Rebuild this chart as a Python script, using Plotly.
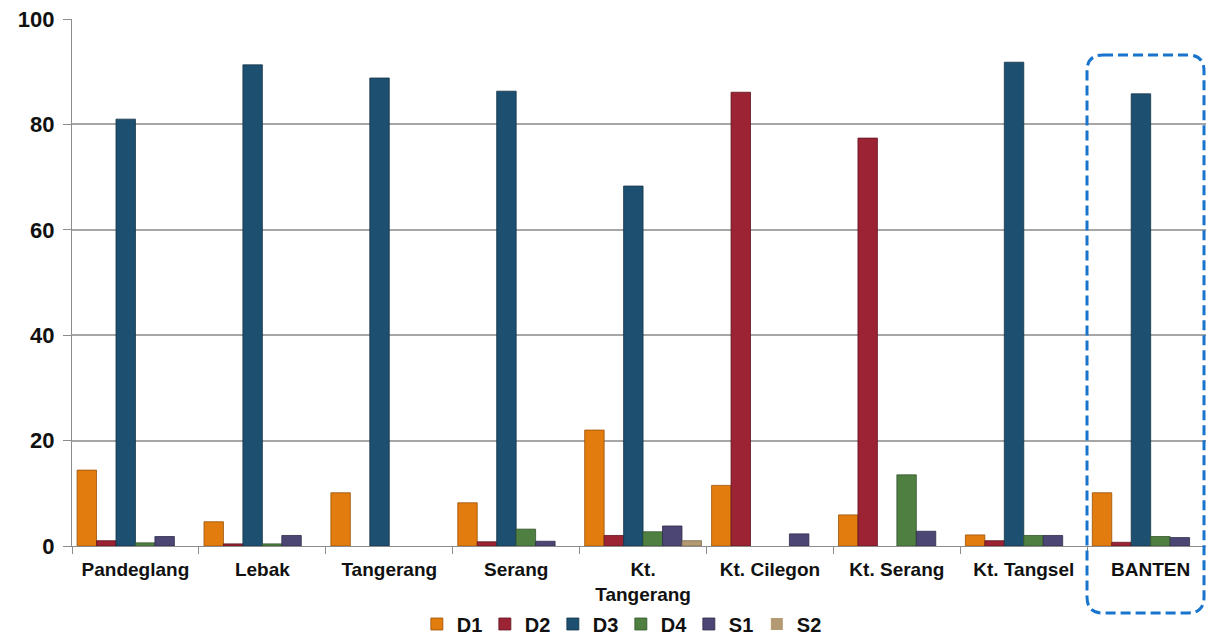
import plotly.graph_objects as go

# Regions and shares (%) per category
regions = ["Pandeglang", "Lebak", "Tangerang", "Serang", "Kt.<br>Tangerang",
           "Kt. Cilegon", "Kt. Serang", "Kt. Tangsel", "BANTEN"]

d1 = [14.4, 4.6, 10.1, 8.2, 22.0, 11.5, 5.9, 2.1, 10.1]
d2 = [1.0, 0.4, 0.0, 0.8, 2.0, 86.1, 77.4, 1.0, 0.7]
d3 = [81.0, 91.3, 88.8, 86.3, 68.3, 0.0, 0.0, 91.8, 85.8]
d4 = [0.6, 0.4, 0.0, 3.2, 2.7, 0.0, 13.5, 2.0, 1.8]
s1 = [1.8, 2.0, 0.0, 0.9, 3.8, 2.3, 2.8, 2.0, 1.6]
s2 = [0.0, 0.0, 0.0, 0.0, 1.0, 0.0, 0.0, 0.0, 0.0]

series = [
    ("D1", d1, "#E27C0E", "#9a5208"),
    ("D2", d2, "#9B2334", "#5e1520"),
    ("D3", d3, "#1D4F71", "#133448"),
    ("D4", d4, "#4F8042", "#33552b"),
    ("S1", s1, "#4B4674", "#2f2c4b"),
    ("S2", s2, "#B39A72", "#7a6949"),
]

W, H = 1206, 640
ML, MR, MT, MB = 72, 0, 19, 94

fig = go.Figure()
for name, vals, col, edge in series:
    fig.add_trace(go.Bar(
        name=name, x=regions, y=vals,
        # no outline on empty bars so nothing is drawn for zero shares
        marker=dict(color=col,
                    line=dict(color=edge, width=[0.8 if v > 0 else 0 for v in vals])),
    ))

font_family = "Liberation Sans, Arial, sans-serif"

fig.update_layout(
    width=W, height=H,
    margin=dict(l=ML, r=MR, t=MT, b=MB, pad=0, autoexpand=False),
    paper_bgcolor="white", plot_bgcolor="white",
    barmode="group", bargap=0.08, bargroupgap=0,
    font=dict(family=font_family, color="#111111"),
    showlegend=True,
    legend=dict(
        orientation="h", x=0.484, xanchor="center", y=-0.148, yanchor="middle",
        bgcolor="rgba(0,0,0,0)",
        font=dict(size=20, family=font_family, color="#111111", weight="bold"),
        entrywidth=23, itemwidth=30, traceorder="normal",
    ),
)

fig.update_xaxes(
    type="category", range=[-0.5, 8.436], tickson="boundaries",
    ticks="outside", ticklen=7, tickcolor="#8c8c8c", tickwidth=1,
    showline=True, linecolor="#8c8c8c", linewidth=1.2,
    showgrid=False, zeroline=False, ticklabelstandoff=6,
    tickfont=dict(size=19, family=font_family, color="#111111", weight="bold"),
    fixedrange=True,
)
fig.update_yaxes(
    range=[0, 100], tickvals=[0, 20, 40, 60, 80, 100],
    ticks="outside", ticklen=8, tickcolor="#8c8c8c", tickwidth=1,
    showline=True, linecolor="#8c8c8c", linewidth=1.2,
    showgrid=True, gridcolor="#a6a6a6", gridwidth=1.5,
    zeroline=False, ticklabelstandoff=4,
    tickfont=dict(size=22, family=font_family, color="#111111", weight="bold"),
    fixedrange=True,
)

# Dashed rounded frame highlighting the provincial total, defined in pixels
pw, ph = W - ML - MR, H - MT - MB
def px(x):
    return (x - ML) / pw
def py(y):
    return (H - MB - y) / ph

x0, x1, y0, y1, r = 1087, 1204, 55, 613, 16
path = (
    f"M {px(x0 + r)},{py(y0)} L {px(x1 - r)},{py(y0)} "
    f"Q {px(x1)},{py(y0)} {px(x1)},{py(y0 + r)} "
    f"L {px(x1)},{py(y1 - r)} Q {px(x1)},{py(y1)} {px(x1 - r)},{py(y1)} "
    f"L {px(x0 + r)},{py(y1)} Q {px(x0)},{py(y1)} {px(x0)},{py(y1 - r)} "
    f"L {px(x0)},{py(y0 + r)} Q {px(x0)},{py(y0)} {px(x0 + r)},{py(y0)} Z"
)
fig.add_shape(type="path", xref="paper", yref="paper", path=path,
              line=dict(color="#1874CD", width=3, dash="10px,5px"),
              fillcolor="rgba(0,0,0,0)", layer="above")

fig.write_html("out.html")
